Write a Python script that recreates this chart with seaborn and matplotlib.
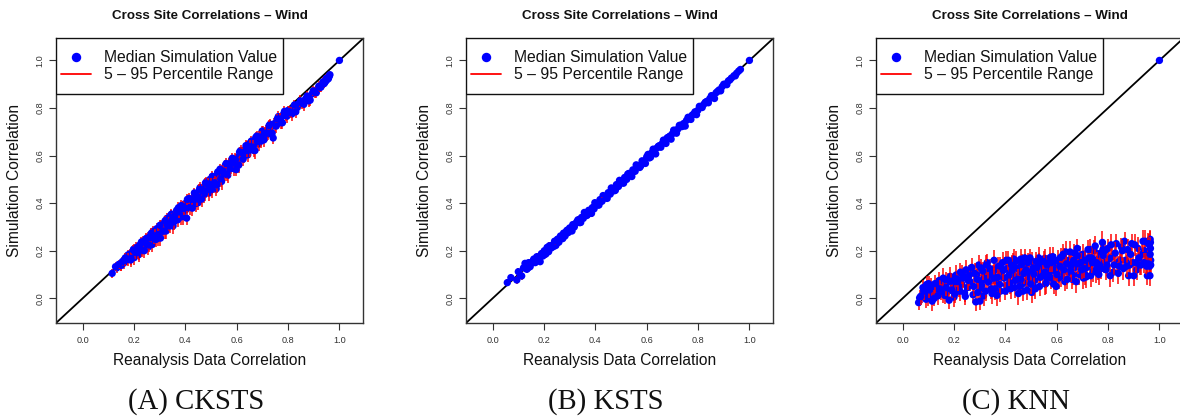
import numpy as np
import pandas as pd
import matplotlib
matplotlib.use("Agg")
import matplotlib.pyplot as plt
import seaborn as sns
from matplotlib.lines import Line2D
from matplotlib.patches import Rectangle

# ---------------------------------------------------------------- data
# Reanalysis correlation (x), median simulated correlation, and the
# half-width of the 5-95 percentile range for every site pair.

cksts_x = [
    0.115, 0.128, 0.133, 0.141, 0.148, 0.155, 0.160, 0.166, 0.172, 0.178,
    0.183, 0.188, 0.192, 0.197, 0.201, 0.205, 0.209, 0.214, 0.218, 0.222,
    0.226, 0.231, 0.235, 0.240, 0.244, 0.249, 0.253, 0.258, 0.262, 0.267,
    0.271, 0.276, 0.280, 0.285, 0.289, 0.294, 0.298, 0.303, 0.307, 0.312,
    0.316, 0.321, 0.325, 0.330, 0.334, 0.339, 0.343, 0.348, 0.352, 0.357,
    0.361, 0.366, 0.370, 0.375, 0.380, 0.384, 0.389, 0.393, 0.398, 0.405,
    0.410, 0.415, 0.420, 0.425, 0.430, 0.435, 0.440, 0.445, 0.450, 0.455,
    0.460, 0.466, 0.472, 0.478, 0.484, 0.490, 0.496, 0.502, 0.508, 0.514,
    0.520, 0.526, 0.532, 0.538, 0.544, 0.550, 0.556, 0.562, 0.568, 0.574,
    0.580, 0.586, 0.592, 0.598, 0.604, 0.611, 0.618, 0.625, 0.632, 0.639,
    0.646, 0.653, 0.660, 0.667, 0.674, 0.681, 0.688, 0.695, 0.702, 0.710,
    0.718, 0.726, 0.734, 0.742, 0.750, 0.758, 0.766, 0.774, 0.782, 0.790,
    0.800, 0.810, 0.820, 0.830, 0.842, 0.855, 0.868, 0.880, 0.893, 0.905,
    0.915, 0.925, 0.933, 0.940, 0.946, 0.951, 0.955, 0.959, 0.963, 1.000,
    0.150, 0.163, 0.176, 0.187, 0.199, 0.211, 0.220, 0.229, 0.238, 0.247,
    0.256, 0.265, 0.274, 0.283, 0.292, 0.301, 0.310, 0.319, 0.328, 0.337,
    0.346, 0.355, 0.364, 0.373, 0.382, 0.391, 0.400, 0.408, 0.417, 0.427,
    0.437, 0.447, 0.457, 0.463, 0.469, 0.475, 0.481, 0.487, 0.493, 0.499,
    0.505, 0.511, 0.517, 0.523, 0.529, 0.535, 0.541, 0.547, 0.553, 0.559,
    0.565, 0.571, 0.577, 0.583, 0.589, 0.595, 0.601, 0.608, 0.615, 0.622,
    0.629, 0.636, 0.643, 0.650, 0.657, 0.664, 0.671, 0.678, 0.685, 0.692,
    0.699, 0.706, 0.714, 0.722, 0.730, 0.738, 0.746, 0.754, 0.762, 0.770,
    0.778, 0.786, 0.795, 0.805, 0.815, 0.825, 0.836, 0.848, 0.861, 0.874,
    0.886, 0.898, 0.910, 0.920, 0.928, 0.936, 0.943, 0.949, 0.957, 0.961,
]
cksts_med = [
    0.105, 0.133, 0.128, 0.143, 0.140, 0.155, 0.148, 0.170, 0.166, 0.163,
    0.186, 0.168, 0.184, 0.203, 0.171, 0.193, 0.213, 0.192, 0.183, 0.224,
    0.211, 0.203, 0.240, 0.200, 0.234, 0.227, 0.256, 0.224, 0.246, 0.273,
    0.226, 0.256, 0.272, 0.247, 0.293, 0.268, 0.286, 0.253, 0.309, 0.282,
    0.301, 0.326, 0.283, 0.308, 0.329, 0.304, 0.349, 0.330, 0.304, 0.347,
    0.333, 0.370, 0.330, 0.363, 0.355, 0.390, 0.344, 0.377, 0.398, 0.337,
    0.390, 0.420, 0.384, 0.415, 0.402, 0.443, 0.398, 0.430, 0.402, 0.457,
    0.435, 0.458, 0.434, 0.484, 0.466, 0.458, 0.500, 0.457, 0.496, 0.486,
    0.460, 0.531, 0.512, 0.502, 0.536, 0.524, 0.560, 0.522, 0.554, 0.544,
    0.582, 0.568, 0.558, 0.541, 0.594, 0.615, 0.594, 0.585, 0.626, 0.621,
    0.649, 0.623, 0.648, 0.622, 0.676, 0.659, 0.680, 0.661, 0.702, 0.694,
    0.688, 0.726, 0.720, 0.674, 0.726, 0.754, 0.746, 0.738, 0.774, 0.768,
    0.790, 0.780, 0.800, 0.784, 0.818, 0.819, 0.838, 0.830, 0.859, 0.865,
    0.880, 0.887, 0.898, 0.902, 0.912, 0.918, 0.925, 0.930, 0.940, 1.000,
    0.138, 0.159, 0.182, 0.161, 0.207, 0.207, 0.190, 0.237, 0.220, 0.251,
    0.216, 0.255, 0.282, 0.261, 0.252, 0.307, 0.294, 0.283, 0.336, 0.313,
    0.354, 0.321, 0.354, 0.381, 0.342, 0.385, 0.370, 0.416, 0.397, 0.379,
    0.433, 0.417, 0.465, 0.417, 0.453, 0.441, 0.489, 0.481, 0.443, 0.479,
    0.513, 0.475, 0.513, 0.477, 0.511, 0.543, 0.491, 0.535, 0.523, 0.567,
    0.517, 0.565, 0.551, 0.589, 0.545, 0.583, 0.571, 0.560, 0.621, 0.612,
    0.599, 0.642, 0.603, 0.638, 0.661, 0.636, 0.621, 0.682, 0.649, 0.678,
    0.703, 0.666, 0.704, 0.694, 0.732, 0.694, 0.734, 0.724, 0.764, 0.754,
    0.738, 0.786, 0.765, 0.785, 0.775, 0.813, 0.802, 0.830, 0.815, 0.850,
    0.833, 0.872, 0.864, 0.892, 0.888, 0.910, 0.907, 0.925, 0.923, 0.936,
]
cksts_err = [
    0.020, 0.018, 0.022, 0.020, 0.024, 0.020, 0.026, 0.022, 0.024, 0.026,
    0.022, 0.028, 0.024, 0.020, 0.030, 0.026, 0.022, 0.028, 0.030, 0.022,
    0.026, 0.030, 0.022, 0.032, 0.026, 0.028, 0.022, 0.030, 0.026, 0.022,
    0.032, 0.028, 0.024, 0.030, 0.022, 0.028, 0.026, 0.034, 0.022, 0.030,
    0.026, 0.022, 0.032, 0.028, 0.024, 0.030, 0.022, 0.028, 0.032, 0.024,
    0.030, 0.022, 0.032, 0.026, 0.028, 0.022, 0.034, 0.026, 0.022, 0.030,
    0.028, 0.022, 0.032, 0.026, 0.030, 0.022, 0.034, 0.026, 0.032, 0.022,
    0.028, 0.024, 0.032, 0.022, 0.026, 0.030, 0.022, 0.034, 0.024, 0.028,
    0.030, 0.022, 0.026, 0.032, 0.024, 0.028, 0.022, 0.030, 0.026, 0.028,
    0.022, 0.026, 0.030, 0.028, 0.024, 0.022, 0.028, 0.030, 0.024, 0.026,
    0.022, 0.028, 0.024, 0.030, 0.022, 0.026, 0.024, 0.028, 0.022, 0.026,
    0.028, 0.022, 0.024, 0.026, 0.026, 0.022, 0.024, 0.028, 0.022, 0.024,
    0.020, 0.024, 0.022, 0.026, 0.022, 0.024, 0.020, 0.026, 0.022, 0.022,
    0.020, 0.018, 0.018, 0.016, 0.016, 0.014, 0.014, 0.012, 0.012, 0.000,
    0.022, 0.024, 0.020, 0.028, 0.022, 0.026, 0.030, 0.022, 0.028, 0.024,
    0.032, 0.026, 0.022, 0.030, 0.032, 0.022, 0.028, 0.032, 0.022, 0.028,
    0.022, 0.032, 0.026, 0.022, 0.034, 0.026, 0.030, 0.022, 0.028, 0.034,
    0.024, 0.030, 0.022, 0.034, 0.026, 0.030, 0.022, 0.026, 0.034, 0.028,
    0.022, 0.032, 0.024, 0.034, 0.028, 0.022, 0.034, 0.026, 0.030, 0.022,
    0.034, 0.024, 0.028, 0.022, 0.032, 0.026, 0.030, 0.034, 0.022, 0.026,
    0.030, 0.022, 0.032, 0.026, 0.022, 0.028, 0.034, 0.022, 0.030, 0.026,
    0.022, 0.030, 0.024, 0.028, 0.022, 0.030, 0.024, 0.028, 0.022, 0.026,
    0.028, 0.022, 0.026, 0.024, 0.028, 0.022, 0.026, 0.024, 0.028, 0.022,
    0.026, 0.022, 0.024, 0.020, 0.022, 0.020, 0.020, 0.018, 0.018, 0.016,
]

ksts_x = [
    0.057, 0.071, 0.094, 0.100, 0.113, 0.120, 0.126, 0.133, 0.140, 0.146,
    0.153, 0.160, 0.166, 0.172, 0.178, 0.185, 0.190, 0.196, 0.201, 0.207,
    0.212, 0.218, 0.224, 0.229, 0.235, 0.241, 0.246, 0.252, 0.258, 0.264,
    0.270, 0.276, 0.282, 0.288, 0.294, 0.300, 0.306, 0.312, 0.318, 0.325,
    0.332, 0.339, 0.346, 0.353, 0.360, 0.367, 0.374, 0.381, 0.388, 0.395,
    0.402, 0.410, 0.418, 0.426, 0.434, 0.442, 0.450, 0.458, 0.466, 0.474,
    0.482, 0.490, 0.498, 0.506, 0.514, 0.522, 0.530, 0.538, 0.546, 0.555,
    0.564, 0.573, 0.582, 0.591, 0.600, 0.610, 0.620, 0.630, 0.640, 0.650,
    0.660, 0.670, 0.680, 0.690, 0.700, 0.711, 0.722, 0.733, 0.744, 0.755,
    0.766, 0.777, 0.788, 0.799, 0.810, 0.822, 0.834, 0.846, 0.858, 0.870,
    0.882, 0.894, 0.906, 0.918, 0.930, 0.940, 0.950, 0.958, 0.965, 1.000,
    0.108, 0.137, 0.157, 0.181, 0.203, 0.221, 0.238, 0.255, 0.273, 0.291,
    0.309, 0.328, 0.343, 0.357, 0.371, 0.385, 0.398, 0.414, 0.430, 0.446,
    0.462, 0.478, 0.494, 0.510, 0.526, 0.542, 0.559, 0.577, 0.595, 0.605,
    0.615, 0.625, 0.635, 0.645, 0.655, 0.665, 0.675, 0.685, 0.695, 0.705,
    0.716, 0.727, 0.738, 0.750, 0.761, 0.772, 0.783, 0.794, 0.805, 0.816,
    0.828, 0.840, 0.852, 0.864, 0.876, 0.888, 0.900, 0.912, 0.924, 0.945,
]
ksts_med = [
    0.066, 0.087, 0.077, 0.112, 0.094, 0.128, 0.147, 0.122, 0.150, 0.133,
    0.148, 0.165, 0.150, 0.175, 0.168, 0.154, 0.188, 0.178, 0.200, 0.186,
    0.214, 0.196, 0.220, 0.212, 0.225, 0.240, 0.222, 0.248, 0.236, 0.262,
    0.255, 0.274, 0.262, 0.284, 0.276, 0.296, 0.285, 0.310, 0.300, 0.316,
    0.330, 0.318, 0.340, 0.336, 0.358, 0.348, 0.370, 0.362, 0.381, 0.376,
    0.398, 0.392, 0.415, 0.408, 0.428, 0.422, 0.444, 0.438, 0.460, 0.452,
    0.478, 0.470, 0.492, 0.485, 0.508, 0.500, 0.525, 0.516, 0.540, 0.534,
    0.558, 0.550, 0.578, 0.570, 0.595, 0.590, 0.612, 0.622, 0.632, 0.642,
    0.650, 0.664, 0.675, 0.682, 0.692, 0.706, 0.712, 0.728, 0.735, 0.748,
    0.758, 0.770, 0.784, 0.790, 0.804, 0.815, 0.828, 0.840, 0.850, 0.864,
    0.876, 0.890, 0.900, 0.914, 0.926, 0.936, 0.946, 0.955, 0.962, 1.000,
    0.096, 0.127, 0.157, 0.163, 0.189, 0.221, 0.218, 0.249, 0.251, 0.287,
    0.283, 0.322, 0.319, 0.361, 0.353, 0.357, 0.402, 0.392, 0.432, 0.420,
    0.464, 0.454, 0.496, 0.484, 0.522, 0.512, 0.561, 0.557, 0.567, 0.605,
    0.593, 0.627, 0.607, 0.639, 0.635, 0.665, 0.651, 0.677, 0.669, 0.707,
    0.694, 0.727, 0.722, 0.724, 0.761, 0.752, 0.775, 0.772, 0.807, 0.802,
    0.824, 0.822, 0.852, 0.840, 0.870, 0.872, 0.900, 0.898, 0.918, 0.935,
]
ksts_err = [
    0.014, 0.014, 0.016, 0.014, 0.016, 0.014, 0.016, 0.014, 0.016, 0.014,
    0.016, 0.014, 0.012, 0.016, 0.014, 0.012, 0.016, 0.014, 0.012, 0.016,
    0.014, 0.012, 0.016, 0.014, 0.012, 0.014, 0.016, 0.012, 0.014, 0.012,
    0.016, 0.012, 0.014, 0.012, 0.016, 0.014, 0.012, 0.014, 0.016, 0.012,
    0.014, 0.016, 0.012, 0.014, 0.012, 0.016, 0.014, 0.012, 0.014, 0.012,
    0.012, 0.014, 0.012, 0.016, 0.012, 0.014, 0.012, 0.014, 0.012, 0.014,
    0.012, 0.014, 0.012, 0.014, 0.012, 0.012, 0.014, 0.012, 0.012, 0.014,
    0.012, 0.012, 0.010, 0.012, 0.012, 0.010, 0.012, 0.010, 0.012, 0.010,
    0.010, 0.012, 0.010, 0.010, 0.012, 0.010, 0.010, 0.012, 0.010, 0.010,
    0.010, 0.010, 0.008, 0.010, 0.010, 0.008, 0.010, 0.008, 0.008, 0.008,
    0.008, 0.008, 0.008, 0.006, 0.006, 0.006, 0.006, 0.006, 0.006, 0.000,
    0.014, 0.016, 0.014, 0.012, 0.016, 0.014, 0.012, 0.014, 0.016, 0.012,
    0.014, 0.012, 0.016, 0.012, 0.014, 0.016, 0.012, 0.014, 0.012, 0.014,
    0.012, 0.014, 0.012, 0.012, 0.014, 0.012, 0.012, 0.010, 0.012, 0.010,
    0.012, 0.010, 0.012, 0.010, 0.010, 0.012, 0.010, 0.010, 0.012, 0.010,
    0.010, 0.010, 0.008, 0.010, 0.010, 0.008, 0.010, 0.008, 0.008, 0.010,
    0.008, 0.008, 0.008, 0.008, 0.006, 0.008, 0.006, 0.006, 0.006, 0.006,
]

knn_x = [
    0.062, 0.070, 0.075, 0.082, 0.088, 0.093, 0.098, 0.104, 0.110, 0.115,
    0.120, 0.126, 0.131, 0.137, 0.142, 0.148, 0.153, 0.158, 0.164, 0.170,
    0.175, 0.181, 0.186, 0.192, 0.197, 0.203, 0.208, 0.214, 0.219, 0.225,
    0.230, 0.236, 0.241, 0.247, 0.252, 0.258, 0.263, 0.269, 0.274, 0.280,
    0.285, 0.290, 0.296, 0.301, 0.307, 0.312, 0.318, 0.323, 0.329, 0.334,
    0.340, 0.345, 0.351, 0.356, 0.362, 0.367, 0.373, 0.378, 0.384, 0.389,
    0.395, 0.400, 0.406, 0.412, 0.418, 0.424, 0.430, 0.436, 0.442, 0.448,
    0.454, 0.460, 0.466, 0.472, 0.478, 0.484, 0.490, 0.496, 0.502, 0.508,
    0.514, 0.520, 0.527, 0.533, 0.540, 0.546, 0.553, 0.559, 0.566, 0.572,
    0.579, 0.585, 0.592, 0.598, 0.605, 0.612, 0.618, 0.625, 0.632, 0.638,
    0.645, 0.652, 0.659, 0.666, 0.673, 0.680, 0.687, 0.694, 0.701, 0.708,
    0.715, 0.722, 0.729, 0.736, 0.743, 0.750, 0.757, 0.764, 0.771, 0.778,
    0.785, 0.792, 0.800, 0.808, 0.816, 0.824, 0.832, 0.840, 0.848, 0.856,
    0.864, 0.872, 0.880, 0.888, 0.896, 0.904, 0.912, 0.920, 0.928, 0.936,
    0.942, 0.948, 0.953, 0.957, 0.960, 0.962, 0.964, 0.965, 0.966, 1.000,
    0.066, 0.079, 0.091, 0.101, 0.112, 0.123, 0.134, 0.145, 0.156, 0.167,
    0.178, 0.189, 0.200, 0.211, 0.222, 0.233, 0.244, 0.255, 0.266, 0.277,
    0.288, 0.293, 0.299, 0.304, 0.315, 0.326, 0.337, 0.348, 0.359, 0.370,
    0.381, 0.392, 0.403, 0.414, 0.421, 0.427, 0.433, 0.439, 0.445, 0.451,
    0.457, 0.463, 0.469, 0.475, 0.481, 0.487, 0.493, 0.499, 0.505, 0.511,
    0.517, 0.523, 0.530, 0.536, 0.543, 0.549, 0.556, 0.562, 0.569, 0.575,
    0.582, 0.588, 0.595, 0.601, 0.608, 0.615, 0.621, 0.628, 0.635, 0.641,
    0.648, 0.655, 0.662, 0.669, 0.676, 0.683, 0.690, 0.697, 0.704, 0.711,
    0.718, 0.725, 0.732, 0.739, 0.746, 0.753, 0.760, 0.767, 0.774, 0.781,
    0.788, 0.796, 0.804, 0.812, 0.820, 0.828, 0.836, 0.844, 0.852, 0.860,
    0.868, 0.876, 0.884, 0.892, 0.900, 0.908, 0.916, 0.924, 0.932, 0.940,
    0.945, 0.950, 0.955, 0.958, 0.961, 0.963, 0.963, 0.964, 0.965, 0.966,
    0.305, 0.355, 0.405, 0.455, 0.505, 0.555, 0.605, 0.655, 0.705, 0.755,
    0.330, 0.380, 0.430, 0.480, 0.530, 0.580, 0.630, 0.680, 0.730, 0.780,
    0.310, 0.360, 0.410, 0.460, 0.510, 0.560, 0.610, 0.660, 0.710, 0.760,
]
knn_med = [
    -0.018, 0.008, 0.012, 0.030, 0.020, 0.058, 0.005, 0.035, 0.048, -0.012,
    0.018, 0.062, 0.040, 0.010, 0.075, 0.028, 0.052, 0.085, 0.012, 0.045,
    0.068, -0.008, 0.092, 0.035, 0.055, 0.018, 0.098, 0.070, 0.040, 0.110,
    0.060, 0.085, 0.022, 0.120, 0.045, 0.095, 0.070, 0.130, 0.015, 0.105,
    -0.015, 0.080, 0.140, -0.012, 0.055, 0.115, 0.090, 0.030, 0.150, 0.068,
    0.125, 0.040, 0.100, 0.160, 0.075, 0.012, 0.135, 0.058, 0.110, 0.150,
    0.085, 0.030, 0.125, 0.160, 0.065, 0.140, 0.100, 0.045, 0.158, 0.080,
    0.120, 0.165, 0.060, 0.105, 0.145, 0.035, 0.090, 0.170, 0.025, 0.128,
    0.075, 0.155, 0.110, 0.050, 0.140, 0.095, 0.168, 0.065, 0.125, 0.150,
    0.085, 0.175, 0.115, 0.050, 0.160, 0.135, 0.095, 0.185, 0.070, 0.145,
    0.110, 0.195, 0.080, 0.160, 0.130, 0.210, 0.100, 0.150, 0.185, 0.125,
    0.090, 0.205, 0.145, 0.170, 0.115, 0.220, 0.135, 0.100, 0.190, 0.235,
    0.150, 0.120, 0.210, 0.095, 0.175, 0.140, 0.230, 0.105, 0.160, 0.200,
    0.240, 0.135, 0.095, 0.185, 0.150, 0.225, 0.120, 0.170, 0.140, 0.240,
    0.200, 0.145, 0.095, 0.230, 0.180, 0.135, 0.248, 0.210, 0.160, 1.000,
    0.002, 0.045, -0.004, 0.062, 0.025, 0.000, 0.055, 0.040, 0.020, 0.078,
    0.030, 0.072, 0.005, 0.082, 0.030, 0.100, 0.008, 0.075, 0.112, 0.050,
    0.100, 0.025, 0.065, 0.128, 0.010, 0.140, 0.095, 0.020, 0.120, 0.088,
    0.030, 0.118, 0.160, 0.098, 0.040, 0.118, 0.165, 0.075, 0.128, 0.020,
    0.098, 0.142, 0.030, 0.170, 0.070, 0.150, 0.110, 0.060, 0.155, 0.102,
    0.040, 0.130, 0.170, 0.088, 0.115, 0.155, 0.060, 0.140, 0.100, 0.172,
    0.130, 0.060, 0.148, 0.100, 0.085, 0.172, 0.150, 0.120, 0.195, 0.080,
    0.160, 0.135, 0.098, 0.190, 0.070, 0.145, 0.175, 0.120, 0.085, 0.160,
    0.130, 0.170, 0.095, 0.150, 0.200, 0.110, 0.165, 0.140, 0.125, 0.180,
    0.200, 0.140, 0.165, 0.225, 0.110, 0.190, 0.150, 0.135, 0.215, 0.125,
    0.160, 0.205, 0.140, 0.230, 0.095, 0.150, 0.210, 0.140, 0.185, 0.150,
    0.240, 0.135, 0.175, 0.145, 0.225, 0.095, 0.140, 0.185, 0.235, 0.140,
    0.045, 0.085, 0.055, 0.050, 0.085, 0.110, 0.120, 0.115, 0.140, 0.150,
    0.105, 0.135, 0.145, 0.120, 0.145, 0.150, 0.165, 0.180, 0.205, 0.205,
    0.075, 0.040, 0.090, 0.080, 0.050, 0.090, 0.105, 0.145, 0.100, 0.125,
]
knn_err = [
    0.030, 0.034, 0.032, 0.036, 0.030, 0.034, 0.038, 0.032, 0.036, 0.040,
    0.034, 0.038, 0.032, 0.040, 0.036, 0.034, 0.038, 0.042, 0.036, 0.034,
    0.040, 0.036, 0.038, 0.034, 0.042, 0.036, 0.040, 0.038, 0.034, 0.040,
    0.036, 0.042, 0.038, 0.040, 0.036, 0.044, 0.038, 0.040, 0.036, 0.042,
    0.038, 0.044, 0.040, 0.036, 0.042, 0.038, 0.044, 0.040, 0.038, 0.042,
    0.040, 0.044, 0.038, 0.042, 0.040, 0.046, 0.038, 0.042, 0.040, 0.044,
    0.042, 0.038, 0.044, 0.040, 0.046, 0.042, 0.038, 0.044, 0.040, 0.042,
    0.038, 0.044, 0.042, 0.046, 0.040, 0.044, 0.042, 0.038, 0.046, 0.040,
    0.044, 0.040, 0.046, 0.042, 0.038, 0.044, 0.040, 0.046, 0.042, 0.040,
    0.044, 0.040, 0.046, 0.042, 0.044, 0.040, 0.046, 0.042, 0.038, 0.044,
    0.042, 0.046, 0.040, 0.044, 0.042, 0.038, 0.046, 0.042, 0.044, 0.040,
    0.046, 0.042, 0.040, 0.044, 0.046, 0.042, 0.040, 0.044, 0.042, 0.046,
    0.042, 0.044, 0.040, 0.046, 0.042, 0.044, 0.040, 0.046, 0.042, 0.044,
    0.040, 0.046, 0.042, 0.044, 0.040, 0.046, 0.042, 0.044, 0.040, 0.046,
    0.042, 0.044, 0.040, 0.046, 0.042, 0.044, 0.040, 0.046, 0.042, 0.000,
    0.034, 0.030, 0.036, 0.032, 0.038, 0.034, 0.030, 0.036, 0.040, 0.034,
    0.038, 0.036, 0.040, 0.034, 0.042, 0.038, 0.036, 0.040, 0.034, 0.042,
    0.040, 0.038, 0.044, 0.036, 0.042, 0.040, 0.038, 0.044, 0.040, 0.036,
    0.044, 0.040, 0.038, 0.046, 0.042, 0.040, 0.044, 0.038, 0.042, 0.046,
    0.040, 0.044, 0.042, 0.038, 0.046, 0.040, 0.044, 0.042, 0.040, 0.046,
    0.044, 0.040, 0.046, 0.042, 0.038, 0.044, 0.046, 0.040, 0.044, 0.042,
    0.046, 0.042, 0.040, 0.044, 0.046, 0.040, 0.042, 0.046, 0.044, 0.040,
    0.042, 0.046, 0.044, 0.040, 0.046, 0.042, 0.044, 0.040, 0.046, 0.042,
    0.044, 0.040, 0.046, 0.042, 0.044, 0.046, 0.040, 0.044, 0.042, 0.046,
    0.040, 0.046, 0.042, 0.044, 0.040, 0.046, 0.042, 0.044, 0.040, 0.046,
    0.042, 0.044, 0.046, 0.040, 0.044, 0.042, 0.046, 0.040, 0.044, 0.042,
    0.046, 0.042, 0.044, 0.040, 0.046, 0.042, 0.044, 0.040, 0.046, 0.042,
    0.040, 0.044, 0.042, 0.046, 0.040, 0.044, 0.042, 0.046, 0.040, 0.044,
    0.044, 0.040, 0.046, 0.042, 0.044, 0.040, 0.046, 0.042, 0.044, 0.040,
    0.042, 0.046, 0.040, 0.044, 0.042, 0.046, 0.040, 0.044, 0.042, 0.046,
]

panels = [
    ("(A) CKSTS", cksts_x, cksts_med, cksts_err),
    ("(B) KSTS", ksts_x, ksts_med, ksts_err),
    ("(C) KNN", knn_x, knn_med, knn_err),
]
title_text = "Cross Site Correlations \u2013 Wind"
xlabel_text = "Reanalysis Data Correlation"
ylabel_text = "Simulation Correlation"
legend_labels = ["Median Simulation Value", "5 \u2013 95 Percentile Range"]
tick_values = [0.0, 0.2, 0.4, 0.6, 0.8, 1.0]

# ---------------------------------------------------------------- style
sns.set_theme(style="white")
plt.rcParams["font.family"] = ["Liberation Sans", "DejaVu Sans"]

W, H = 1180, 418
fig = plt.figure(figsize=(W / 100, H / 100), dpi=100)
fig.patch.set_facecolor("white")

box_lefts = [55.7, 465.7, 875.7]
box_w, box_top, box_bottom = 307.6, 38.3, 323.3
caption_centers = [196.3, 605.8, 1015.8]
lims = (-0.105, 1.093)

for (caption, xs, meds, errs), left, cap_x in zip(panels, box_lefts, caption_centers):
    ax = fig.add_axes([left / W, 1 - box_bottom / H, box_w / W,
                       (box_bottom - box_top) / H])
    df = pd.DataFrame({"x": xs, "med": meds, "err": errs})
    df["lo"] = df["med"] - df["err"]
    df["hi"] = df["med"] + df["err"]

    ax.axline((0, 0), slope=1, color="black", lw=1.3, zorder=1)

    # interleave bars and points so later bars sit over earlier points
    for k, part in enumerate([df.iloc[0::2], df.iloc[1::2]]):
        ax.vlines(part["x"], part["lo"], part["hi"], colors="#ff0000",
                  lw=1.2, alpha=0.9, zorder=2 + 2 * k)
        sns.scatterplot(data=part, x="x", y="med", ax=ax, color="#0000ff",
                        s=28, linewidth=0, edgecolor="none", legend=False,
                        zorder=3 + 2 * k)

    ax.set_xlim(*lims)
    ax.set_ylim(*lims)
    ax.set_xticks(tick_values)
    ax.set_yticks(tick_values)
    ax.set_xticklabels([f"{v:.1f}" for v in tick_values])
    ax.set_yticklabels([f"{v:.1f}" for v in tick_values], rotation=90,
                       va="center")
    ax.tick_params(axis="both", which="major", length=5, width=0.8,
                   color="#333333", labelsize=6.6, labelcolor="#333333",
                   direction="out", bottom=True, left=True)
    ax.tick_params(axis="x", pad=4.0)
    ax.tick_params(axis="y", pad=3.0)
    for sp in ax.spines.values():
        sp.set_visible(True)
        sp.set_color("#333333")
        sp.set_linewidth(1.0)

    ax.set_xlabel(xlabel_text, fontsize=11.2, color="#111111")
    ax.set_ylabel(ylabel_text, fontsize=11.2, color="#111111")
    ax.xaxis.set_label_coords(0.5, -37.0 / 285.0)
    ax.yaxis.set_label_coords(-41.0 / box_w, 0.5)
    ax.xaxis.label.set_va("center")
    ax.yaxis.label.set_va("center")

    ax.text(0.5, 1 + 22.3 / 285.0, title_text, transform=ax.transAxes,
            ha="center", va="center", fontsize=9.6, fontweight="bold",
            color="#111111")

    # legend frame and entries
    lw_frac, lh_frac = 227.0 / box_w, 56.0 / 285.0
    ax.add_patch(Rectangle((0, 1 - lh_frac), lw_frac, lh_frac,
                           transform=ax.transAxes, facecolor="white",
                           edgecolor="#111111", lw=1.0, zorder=10))
    handles = [
        Line2D([], [], marker="o", color="#0000ff", linestyle="none",
               markersize=6.8, markeredgewidth=0),
        Line2D([], [], color="#ff0000", lw=1.3),
    ]
    leg = ax.legend(handles, legend_labels, loc="center",
                    bbox_to_anchor=(lw_frac / 2, 1 - lh_frac / 2),
                    frameon=False, fontsize=11.3, handlelength=1.9,
                    handletextpad=0.85, labelspacing=0.15, borderpad=0.0,
                    borderaxespad=0.0)
    leg.set_zorder(11)
    for t in leg.get_texts():
        t.set_color("#111111")

    fig.text(cap_x / W, 1 - 401.7 / H, caption, ha="center", va="center",
             fontsize=20.7, family=["Liberation Serif", "DejaVu Serif"],
             color="#111111")

fig.savefig("out.png", dpi=100, facecolor="white")
